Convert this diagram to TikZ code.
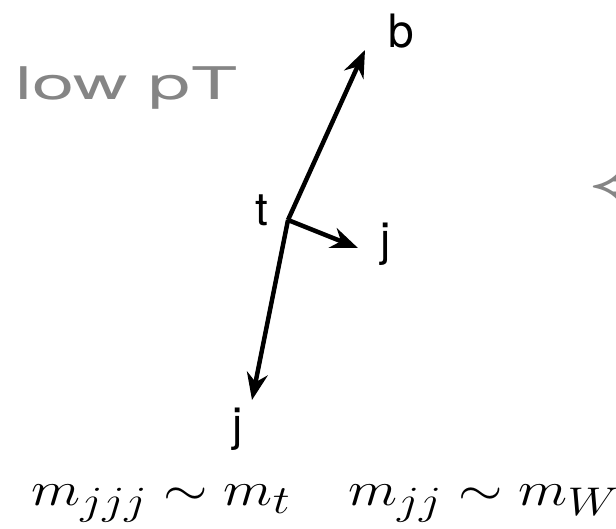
\documentclass[tikz,border=0pt]{standalone}
\usepackage{fontspec}
\setsansfont{TeX Gyre Heros}
\usetikzlibrary{positioning,arrows.meta}
\definecolor{labelgray}{gray}{0.52}

\begin{document}
\begin{tikzpicture}[x=1pt,y=-1pt,>={Stealth[length=27pt,width=21pt]},
  lbl/.style={font=\sffamily\fontsize{46}{52}\selectfont,inner sep=0pt,anchor=base},
  jet/.style={->,line width=4.5pt}]
\useasboundingbox (0,0) rectangle (616,528);
\node[lbl,text=labelgray,font=\sffamily\fontsize{45}{50}\selectfont,anchor=base west,xscale=1.68] (lowpt) at (15,99) {low pT};
\node[inner sep=0pt,text=labelgray,font=\Huge\boldmath,anchor=west,xscale=3.0,yscale=2.49] (back) at (588,190) {$\Leftarrow$};
% decay vertex and jets
\coordinate (vtx) at (288,220);
\coordinate (tipb) at (365,50);
\coordinate (tipj1) at (358,248);
\coordinate (tipj2) at (252,400);
\node[lbl] (tq) at (262,225) {t};
\node[lbl] (bq) at (401,47) {b};
\node[lbl] (jet1) at (386,255) {j};
\node[lbl] (jet2) at (238,440) {j};
\draw[jet] (vtx) -- (tipb);
\draw[jet] (vtx) -- (tipj1);
\draw[jet] (vtx) -- (tipj2);
\node[inner sep=0pt,font=\Huge,anchor=base west,xscale=2.3,yscale=1.93] (mass) at (31,505) {$m_{jjj}\sim m_t\quad m_{jj}\sim m_W$};
\end{tikzpicture}
\end{document}
